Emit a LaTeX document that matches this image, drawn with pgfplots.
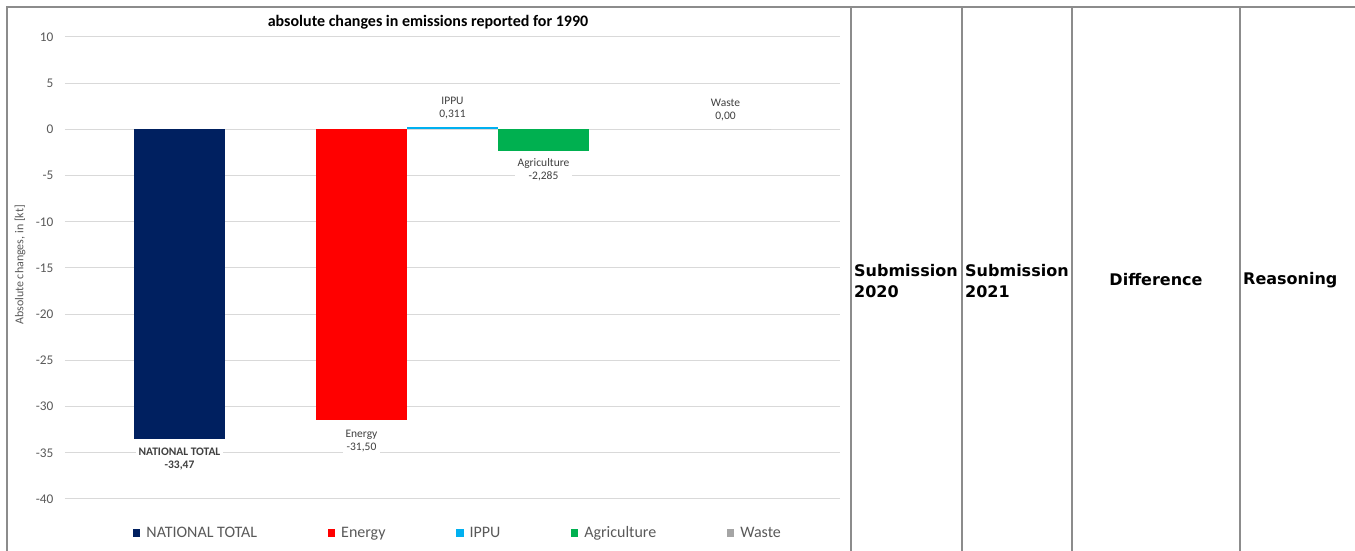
\documentclass[border=0pt]{standalone}
\usepackage{fontspec}
\setmainfont{Carlito}
\newfontfamily\dejavu{DejaVu Sans}
\usepackage{pgfplots}
\pgfplotsset{compat=1.18}
\definecolor{cNT}{HTML}{002060}
\definecolor{cEN}{HTML}{FF0000}
\definecolor{cIP}{HTML}{00B0F0}
\definecolor{cAG}{HTML}{00B050}
\definecolor{cWA}{HTML}{A5A5A5}
\definecolor{gridc}{HTML}{D9D9D9}
\definecolor{txt}{HTML}{595959}
\definecolor{lbl}{HTML}{404040}
\definecolor{frame}{HTML}{8C8C8C}
\begin{document}
\begin{tikzpicture}
\useasboundingbox (0,0) rectangle (1355pt,551pt);
\begin{axis}[
  at={(65pt,52pt)}, anchor=south west,
  scale only axis, width=775pt, height=462pt,
  xmin=-0.258, xmax=8.258, ymin=-40, ymax=10,
  ytick={-40,-35,...,10}, xtick=\empty,
  axis line style={draw=none},
  major tick length=0pt,
  ymajorgrids, grid style={gridc, line width=1pt},
  /pgf/number format/assume math mode=true,
  yticklabel style={font=\fontsize{13.3}{15}\selectfont, text=txt, xshift=-8pt},
  ybar, bar width=1, 
  every axis plot/.append style={bar shift=0pt, draw=none},
  legend columns=5,
  legend style={at={(0.507,-0.0736)}, anchor=center, draw=none, fill=none,
    font=\fontsize{16}{18}\selectfont, text=txt,
    /tikz/every odd column/.append style={column sep=4pt},
    /tikz/every even column/.append style={column sep=68.5pt}},
  legend image code/.code={\fill[#1] (0pt,-3.8pt) rectangle (7.5pt,3.8pt);},
  clip=false,
]
\addplot[fill=cNT] coordinates {(1,-33.47)};
\addlegendentry{NATIONAL TOTAL}
\addplot[fill=cEN] coordinates {(3,-31.50)};
\addlegendentry{Energy}
\addplot[fill=cIP] coordinates {(4,0.311)};
\addlegendentry{IPPU}
\addplot[fill=cAG] coordinates {(5,-2.285)};
\addlegendentry{Agriculture}
\addplot[fill=cWA] coordinates {(7,0)};
\addlegendentry{Waste}
\tikzset{dl/.style={fill=white, align=center, text=lbl, inner sep=3pt, font=\fontsize{11.5}{13}\selectfont}}
\node[dl, font=\bfseries\fontsize{11.5}{13}\selectfont] at (axis cs:1,-35.62) {NATIONAL TOTAL\\-33,47};
\node[dl] at (axis cs:3,-33.68) {Energy\\-31,50};
\node[dl] at (axis cs:4,2.32) {IPPU\\0,311};
\node[dl] at (axis cs:5,-4.38) {Agriculture\\-2,285};
\node[dl] at (axis cs:7,2.05) {Waste\\0,00};
\end{axis}
% title and y label
\node[font=\bfseries\fontsize{16}{18}\selectfont] at (428pt,529pt) {absolute changes in emissions reported for 1990};
\node[rotate=90, text=txt, font=\fontsize{12}{14}\selectfont] at (20pt,286pt) {Absolute changes, in [kt]};
% frame and table
\draw[frame, line width=1.6pt] (7pt,0pt) -- (7pt,544pt) -- (1355pt,544pt);
\foreach \xx in {851,962,1072,1240} {\draw[frame, line width=1.6pt] (\xx pt,0pt) -- (\xx pt,544pt);}
\tikzset{th/.style={font=\dejavu\bfseries\fontsize{16}{21}\selectfont, inner sep=0pt}}
\node[th, anchor=west, align=left] at (854pt,270pt) {Submission\\2020};
\node[th, anchor=west, align=left] at (965pt,270pt) {Submission\\2021};
\node[th] at (1156pt,271pt) {Difference};
\node[th, anchor=west] at (1243pt,271pt) {Reasoning};
\end{tikzpicture}
\end{document}
